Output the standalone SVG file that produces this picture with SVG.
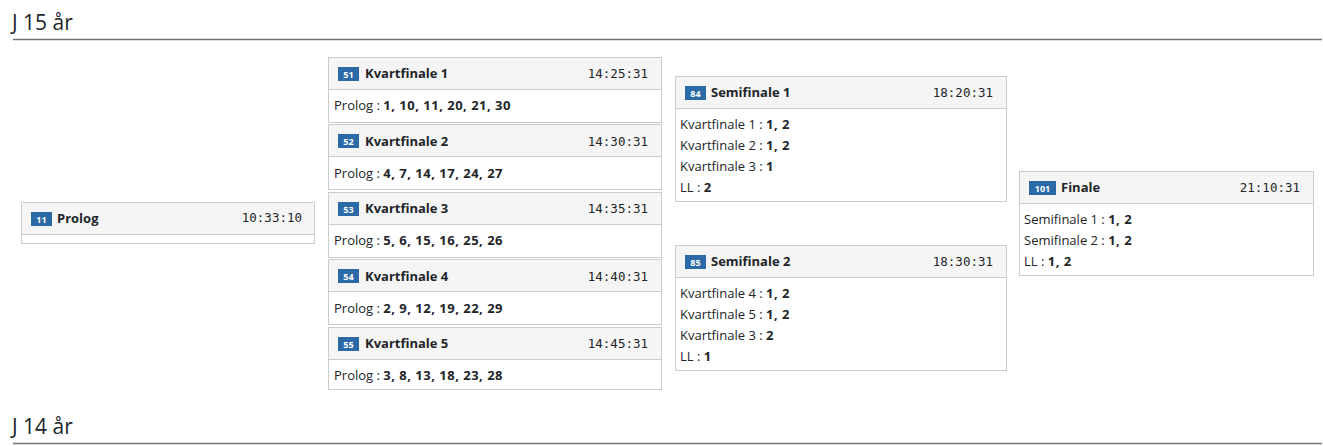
<svg xmlns="http://www.w3.org/2000/svg" width="1323" height="446" viewBox="0 0 1323 446">
<style>
.hdr{fill:#f5f5f5;stroke:#cccccc;stroke-width:1}
.box{fill:#ffffff;stroke:#cccccc;stroke-width:1}
.badge{fill:#2b6aa7}
.bt{font-family:"Open Sans","Noto Sans",sans-serif;font-size:9px;font-weight:bold;fill:#ffffff;text-anchor:middle}
.ttl{font-family:"Open Sans","Noto Sans",sans-serif;font-size:13px;font-weight:bold;fill:#212529}
.tm{font-family:"DejaVu Sans Mono","Liberation Mono",monospace;font-size:12.5px;fill:#212529;text-anchor:end}
.bd{font-family:"Open Sans","Noto Sans",sans-serif;font-size:13px;fill:#212529}
.b{font-weight:bold;letter-spacing:0.5px}
.h1{font-family:"Open Sans","Noto Sans",sans-serif;font-size:21px;fill:#212529}
.rule{stroke:#6c757d;stroke-width:1.3}
</style>
<rect width="1323" height="446" fill="#ffffff"/>
<text class="h1" x="12" y="29.5">J 15 år</text>
<line class="rule" x1="13" y1="39.5" x2="1322" y2="39.5"/>

<g id="prolog">
<rect class="box" x="21.5" y="202.5" width="293" height="41"/>
<rect class="hdr" x="21.5" y="202.5" width="293" height="32"/>
<rect class="badge" x="31" y="212" width="21" height="14"/>
<text class="bt" x="41.5" y="222.5">11</text>
<text class="ttl" x="57" y="223">Prolog</text>
<text class="tm" x="302" y="222">10:33:10</text>
</g>

<g id="kf1">
<rect class="box" x="328.5" y="57.5" width="333" height="65"/>
<rect class="hdr" x="328.5" y="57.5" width="333" height="32"/>
<rect class="badge" x="338" y="67" width="21" height="14"/>
<text class="bt" x="348.5" y="77.5">51</text>
<text class="ttl" x="365" y="78">Kvartfinale 1</text>
<text class="tm" x="648" y="78">14:25:31</text>
<text class="bd" x="334" y="110">Prolog : <tspan class="b">1, 10, 11, 20, 21, 30</tspan></text>
</g>

<g id="kf2">
<rect class="box" x="328.5" y="124.5" width="333" height="65"/>
<rect class="hdr" x="328.5" y="124.5" width="333" height="32"/>
<rect class="badge" x="338" y="134" width="21" height="14"/>
<text class="bt" x="348.5" y="144.5">52</text>
<text class="ttl" x="365" y="145.5">Kvartfinale 2</text>
<text class="tm" x="648" y="145.5">14:30:31</text>
<text class="bd" x="334" y="177.5">Prolog : <tspan class="b">4, 7, 14, 17, 24, 27</tspan></text>
</g>

<g id="kf3">
<rect class="box" x="328.5" y="192.5" width="333" height="65"/>
<rect class="hdr" x="328.5" y="192.5" width="333" height="32"/>
<rect class="badge" x="338" y="202" width="21" height="14"/>
<text class="bt" x="348.5" y="212.5">53</text>
<text class="ttl" x="365" y="213">Kvartfinale 3</text>
<text class="tm" x="648" y="213">14:35:31</text>
<text class="bd" x="334" y="245">Prolog : <tspan class="b">5, 6, 15, 16, 25, 26</tspan></text>
</g>

<g id="kf4">
<rect class="box" x="328.5" y="259.5" width="333" height="65"/>
<rect class="hdr" x="328.5" y="259.5" width="333" height="32"/>
<rect class="badge" x="338" y="269" width="21" height="14"/>
<text class="bt" x="348.5" y="279.5">54</text>
<text class="ttl" x="365" y="280.5">Kvartfinale 4</text>
<text class="tm" x="648" y="280.5">14:40:31</text>
<text class="bd" x="334" y="312.5">Prolog : <tspan class="b">2, 9, 12, 19, 22, 29</tspan></text>
</g>

<g id="kf5">
<rect class="box" x="328.5" y="327.5" width="333" height="62"/>
<rect class="hdr" x="328.5" y="327.5" width="333" height="32"/>
<rect class="badge" x="338" y="337" width="21" height="14"/>
<text class="bt" x="348.5" y="347.5">55</text>
<text class="ttl" x="365" y="348">Kvartfinale 5</text>
<text class="tm" x="648" y="348">14:45:31</text>
<text class="bd" x="334" y="380">Prolog : <tspan class="b">3, 8, 13, 18, 23, 28</tspan></text>
</g>

<g id="sf1">
<rect class="box" x="675.5" y="76.5" width="331" height="125"/>
<rect class="hdr" x="675.5" y="76.5" width="331" height="32"/>
<rect class="badge" x="685" y="86" width="21" height="14"/>
<text class="bt" x="695.5" y="96.5">84</text>
<text class="ttl" x="711" y="97">Semifinale 1</text>
<text class="tm" x="993" y="97">18:20:31</text>
<text class="bd" x="680" y="129">Kvartfinale 1 : <tspan class="b">1, 2</tspan></text>
<text class="bd" x="680" y="150">Kvartfinale 2 : <tspan class="b">1, 2</tspan></text>
<text class="bd" x="680" y="171">Kvartfinale 3 : <tspan class="b">1</tspan></text>
<text class="bd" x="680" y="192">LL : <tspan class="b">2</tspan></text>
</g>

<g id="sf2">
<rect class="box" x="675.5" y="245.5" width="331" height="125"/>
<rect class="hdr" x="675.5" y="245.5" width="331" height="32"/>
<rect class="badge" x="685" y="255" width="21" height="14"/>
<text class="bt" x="695.5" y="265.5">85</text>
<text class="ttl" x="711" y="266">Semifinale 2</text>
<text class="tm" x="993" y="266">18:30:31</text>
<text class="bd" x="680" y="298">Kvartfinale 4 : <tspan class="b">1, 2</tspan></text>
<text class="bd" x="680" y="319">Kvartfinale 5 : <tspan class="b">1, 2</tspan></text>
<text class="bd" x="680" y="340">Kvartfinale 3 : <tspan class="b">2</tspan></text>
<text class="bd" x="680" y="361">LL : <tspan class="b">1</tspan></text>
</g>

<g id="finale">
<rect class="box" x="1019.5" y="171.5" width="294" height="104"/>
<rect class="hdr" x="1019.5" y="171.5" width="294" height="32"/>
<rect class="badge" x="1029" y="181" width="27" height="14"/>
<text class="bt" x="1042.5" y="191.5">101</text>
<text class="ttl" x="1061" y="192">Finale</text>
<text class="tm" x="1300" y="192">21:10:31</text>
<text class="bd" x="1024" y="224">Semifinale 1 : <tspan class="b">1, 2</tspan></text>
<text class="bd" x="1024" y="245">Semifinale 2 : <tspan class="b">1, 2</tspan></text>
<text class="bd" x="1024" y="266">LL : <tspan class="b">1, 2</tspan></text>
</g>

<text class="h1" x="12" y="433.5">J 14 år</text>
<line class="rule" x1="13" y1="443.5" x2="1322" y2="443.5"/>
</svg>
